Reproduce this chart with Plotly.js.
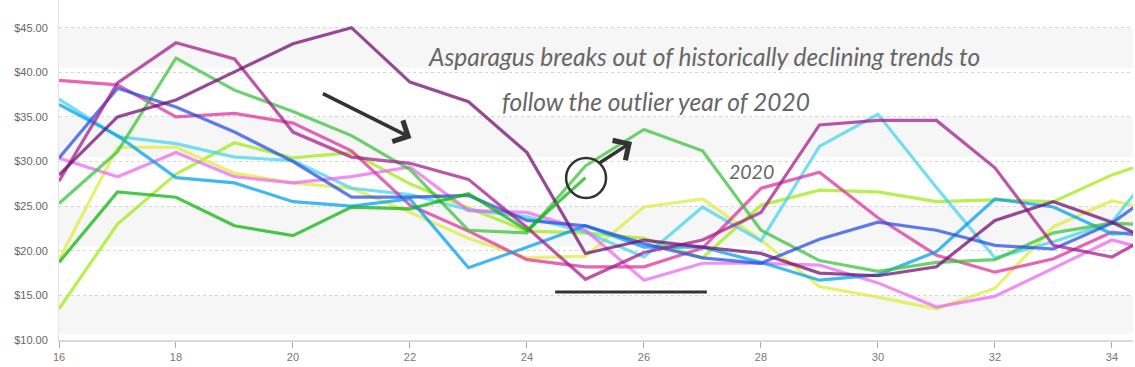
<!DOCTYPE html>
<html>
<head>
<meta charset="utf-8">
<script src="https://cdn.plot.ly/plotly-3.0.1.min.js"></script>
<style>html,body{margin:0;padding:0;background:#fff;}#chart{width:1135px;height:367px;}</style>
</head>
<body>
<div id="chart"></div>
<script>
const weeks = [16,17,18,19,20,21,22,23,24,25,26,27,28,29,30,31,32,33,34,35];
const pinkSeries    = [39.1,38.6,35.0,35.4,34.3,31.2,25.1,22.2,19.0,18.2,18.2,20.3,27.0,28.8,23.7,19.5,17.6,19.1,22.1,21.3];
const violetSeries  = [30.4,28.3,31.0,28.3,27.6,28.3,29.4,24.5,24.3,22.3,16.7,18.6,18.6,18.4,16.4,13.7,14.9,18.1,21.2,19.5];
const cyanSeries    = [37.0,32.8,32.0,30.5,30.1,27.0,26.3,24.6,23.8,22.1,19.3,24.9,21.1,31.7,35.3,27.1,19.2,21.0,23.2,31.5];
const skySeries     = [36.4,32.9,28.2,27.6,25.5,25.0,25.8,18.1,20.4,22.8,20.4,20.4,18.7,16.7,17.3,19.9,25.8,24.9,21.9,22.2];
const blueSeries    = [30.4,38.2,36.1,33.3,30.0,26.0,26.0,26.2,23.4,22.8,20.8,19.2,18.6,21.3,23.2,22.3,20.6,20.2,23.1,27.8];
const purpleSeries  = [28.5,35.0,36.9,40.0,43.2,45.0,38.9,36.7,31.0,19.7,21.2,20.4,19.7,17.5,17.2,18.2,23.4,25.5,23.2,20.1];
const magentaSeries = [27.8,38.8,43.3,41.5,33.3,30.5,29.8,28.0,22.6,16.8,19.8,21.2,24.3,34.1,34.6,34.6,29.3,20.6,19.3,22.9];
const greenSeries   = [25.3,31.1,41.6,38.0,35.6,32.9,29.1,22.3,22.0,29.5,33.6,31.2,22.3,18.9,17.7,18.7,19.0,22.0,23.1,22.8];
const yellowSeries  = [19.0,31.6,31.6,28.7,27.6,27.0,24.3,21.4,19.2,19.4,24.9,25.8,21.2,16.0,14.8,13.5,15.8,22.7,25.6,24.2];
const limeSeries    = [13.5,23.0,28.6,32.1,30.4,31.0,27.5,24.8,22.2,22.0,21.4,19.2,25.1,26.8,26.6,25.5,25.7,25.5,28.5,30.7];
const darkGreenSeries = [18.7,26.6,26.0,22.8,21.7,24.9,24.7,26.4,22.3,28.2];
const yTicks = [10,15,20,25,30,35,40,45];
const xTicks = [16,18,20,22,24,26,28,30,32,34];

const seriesList = [
  {y: limeSeries,    color: 'rgb(160,235,20)'},
  {y: yellowSeries,  color: 'rgb(222,236,60)'},
  {y: cyanSeries,    color: 'rgb(70,212,235)'},
  {y: violetSeries,  color: 'rgb(235,105,240)'},
  {y: pinkSeries,    color: 'rgb(222,50,155)'},
  {y: skySeries,     color: 'rgb(0,160,240)'},
  {y: greenSeries,   color: 'rgb(60,195,60)'},
  {y: blueSeries,    color: 'rgb(40,80,230)'},
  {y: magentaSeries, color: 'rgb(165,30,140)'},
  {y: purpleSeries,  color: 'rgb(115,15,115)'},
  {y: darkGreenSeries, color: 'rgb(15,180,15)'}
];

const traces = seriesList.map(s => ({
  x: weeks.slice(0, s.y.length), y: s.y, type: 'scatter', mode: 'lines',
  line: {color: s.color, width: 3.2}, opacity: 0.75, hoverinfo: 'skip', showlegend: false
}));

// pixel helpers for decorations (annotation positions)
const px2x = px => 16 + (px - 59) / 58.6;
const py2y = py => 10 + (340 - py) / 8.92;

const bands = [[40.5,45],[30.5,35],[20.5,25],[10.7,15]];
const shapes = bands.map(b => ({type:'rect', xref:'paper', x0:0, x1:1, yref:'y', y0:b[0], y1:b[1],
  fillcolor:'#f6f6f6', line:{width:0}, layer:'below'}));
shapes.push({type:'circle', xref:'x', yref:'y', x0:px2x(567), x1:px2x(607), y0:py2y(198), y1:py2y(158),
  line:{color:'#333', width:2.5}, layer:'above'});
shapes.push({type:'line', xref:'x', yref:'y', x0:px2x(556), x1:px2x(708), y0:py2y(292), y1:py2y(292),
  line:{color:'#333', width:3}, layer:'above'});

const hand = {family:'Lato, sans-serif', size:24.5, color:'#666', style:'italic'};
const annotations = [
  {xref:'x', yref:'y', x:px2x(705), y:py2y(57), text:'Asparagus breaks out of historically declining trends to',
   showarrow:false, font:hand},
  {xref:'x', yref:'y', x:px2x(657), y:py2y(102), text:'follow the outlier year of 2020',
   showarrow:false, font:hand},
  {xref:'x', yref:'y', x:px2x(753), y:py2y(172), text:'2020', showarrow:false,
   font:{family:'Lato, sans-serif', size:19.5, color:'#666', style:'italic'}},
  {xref:'x', yref:'y', x:px2x(412), y:py2y(138), ax:-90, ay:-45, text:'', showarrow:true,
   arrowhead:4, arrowsize:1.3, arrowwidth:3.5, arrowcolor:'#333'},
  {xref:'x', yref:'y', x:px2x(633), y:py2y(142), ax:-34, ay:22, text:'', showarrow:true,
   arrowhead:4, arrowsize:1.3, arrowwidth:3.5, arrowcolor:'#333'}
];

const layout = {
  width:1135, height:367,
  margin:{l:59, r:2, t:0, b:27},
  paper_bgcolor:'#fff', plot_bgcolor:'#fff',
  showlegend:false,
  xaxis:{range:[16,34.36], tickvals:xTicks, ticktext:xTicks.map(String), showgrid:false, zeroline:false,
    showline:true, linecolor:'#d9d9d9', linewidth:2, ticks:'outside', ticklen:6, tickcolor:'#aaa', tickwidth:1,
    tickfont:{family:'Liberation Sans, Arial, sans-serif', size:11, color:'#777'}},
  yaxis:{range:[10,48.1], tickvals:yTicks, ticktext:yTicks.map(v => '$' + v.toFixed(2)), showgrid:true,
    gridcolor:'#d6d6d6', griddash:'dot', gridwidth:1, zeroline:false, showline:true, linecolor:'#e3e3e3', linewidth:1,
    ticks:'', ticklabelstandoff:8,
    tickfont:{family:'Liberation Sans, Arial, sans-serif', size:11, color:'#666'}},
  shapes:shapes, annotations:annotations
};

Plotly.newPlot('chart', traces, layout, {displayModeBar:false, staticPlot:true});
</script>
</body>
</html>
